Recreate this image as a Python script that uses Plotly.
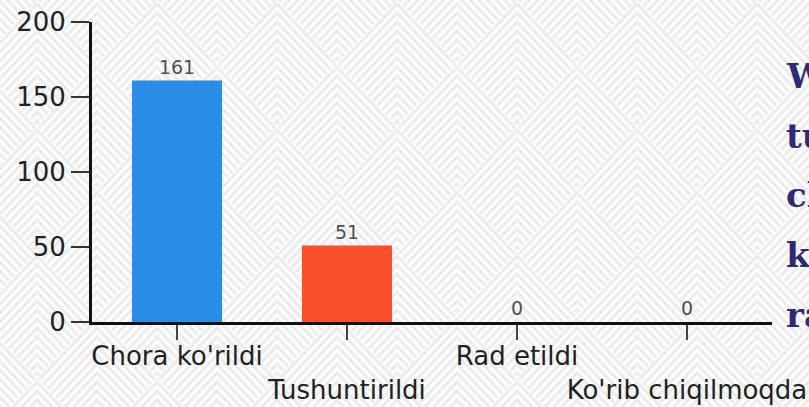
import base64
import plotly.graph_objects as go

categories = ["Chora ko'rildi", "Tushuntirildi", "Rad etildi", "Ko'rib chiqilmoqda"]
values = [161, 51, 0, 0]
bar_colors = ["#2a8ee6", "#f9502a", "#2a8ee6", "#f9502a"]
y_ticks = [0, 50, 100, 150, 200]
side_text = ["W", "tu", "ch", "k", "ra"]

tick_text = [c if i % 2 == 0 else "<br>" + c for i, c in enumerate(categories)]

FONT = "DejaVu Sans"
W_FIG, H_FIG = 809, 407
M_L, M_R, M_T, M_B = 92, 37, 22, 85


def chevron_background():
    # decorative nested-chevron diamond pattern (background only)
    tw, th = 120, 126
    a, b = tw / 2, th / 2
    step = 9
    paths = []
    for cx, cy in [(0, 0), (tw, 0), (0, th), (tw, th), (tw / 2, th / 2)]:
        t = 4
        while t < 2 * b - 2:
            dx = a * (1 - t / (2 * b))
            y_end = cy + t / 2
            paths.append(
                f"M{cx - dx:.2f},{y_end:.2f}L{cx:.2f},{cy - b + t:.2f}L{cx + dx:.2f},{y_end:.2f}"
            )
            t += step
    d = "".join(paths)
    svg = (
        f'<svg xmlns="http://www.w3.org/2000/svg" width="{W_FIG}" height="{H_FIG}">'
        f'<defs><pattern id="p" patternUnits="userSpaceOnUse" x="97" y="0" width="{tw}" height="{th}">'
        f'<rect width="{tw}" height="{th}" fill="#fdfdfd"/>'
        f'<path d="{d}" fill="none" stroke="#ececec" stroke-width="3.2"/>'
        f'</pattern></defs><rect width="{W_FIG}" height="{H_FIG}" fill="url(#p)"/></svg>'
    )
    return "data:image/svg+xml;base64," + base64.b64encode(svg.encode()).decode()


fig = go.Figure()
fig.add_trace(go.Bar(
    x=categories,
    y=values,
    marker=dict(color=bar_colors, line=dict(width=0)),
    width=0.53,
    text=[str(v) for v in values],
    textposition="outside",
    textfont=dict(family=FONT, size=19, color="#505050"),
    cliponaxis=False,
    hoverinfo="skip",
))

for i, t in enumerate(side_text):
    fig.add_annotation(
        x=1.0, y=0.82 - i * 0.199, xref="paper", yref="paper",
        xshift=12,
        text="<b>" + t + "</b>", showarrow=False,
        xanchor="left", yanchor="middle",
        font=dict(family="DejaVu Serif", size=34, color="#2d2a78"),
    )

pw = W_FIG - M_L - M_R
ph = H_FIG - M_T - M_B
fig.add_layout_image(
    source=chevron_background(),
    xref="paper", yref="paper",
    x=-M_L / pw, y=1 + M_T / ph,
    sizex=W_FIG / pw, sizey=H_FIG / ph,
    xanchor="left", yanchor="top",
    sizing="stretch", layer="below",
)

fig.update_layout(
    width=W_FIG, height=H_FIG,
    margin=dict(l=M_L, r=M_R, t=M_T, b=M_B, autoexpand=False),
    paper_bgcolor="#f5f5f5",
    plot_bgcolor="rgba(0,0,0,0)",
    showlegend=False,
    bargap=0.47,
    xaxis=dict(
        type="category",
        tickmode="array",
        tickvals=categories,
        ticktext=tick_text,
        tickangle=0,
        automargin=False,
        showline=True, linecolor="#111111", linewidth=3,
        ticks="outside", ticklen=15, tickwidth=1.5, tickcolor="#444444",
        ticklabelstandoff=-6,
        tickfont=dict(family=FONT, size=26, color="#222222"),
        showgrid=False, zeroline=False,
        range=[-0.5, 3.5],
    ),
    yaxis=dict(
        range=[0, 200],
        tickmode="array",
        tickvals=y_ticks,
        automargin=False,
        showline=True, linecolor="#111111", linewidth=3,
        ticks="outside", ticklen=18, tickwidth=2, tickcolor="#333333",
        tickfont=dict(family=FONT, size=26, color="#222222"),
        showgrid=False, zeroline=False,
    ),
)

fig.write_html(
    "out.html",
    config={"displayModeBar": False},
    post_script="document.body.style.margin='0';document.body.style.overflow='hidden';",
)
